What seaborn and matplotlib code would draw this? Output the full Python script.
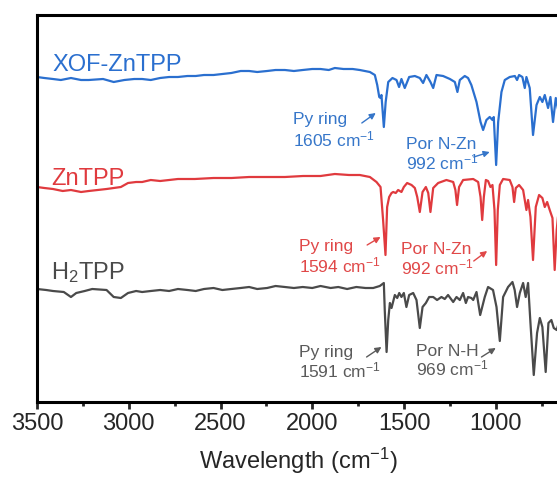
import matplotlib
matplotlib.use('Agg')
import matplotlib.pyplot as plt
import seaborn as sns
from matplotlib.ticker import MultipleLocator

# FTIR spectra, stacked with offsets (arbitrary units)
xof_wn = [3500, 3460, 3413, 3370, 3315, 3260, 3218, 3140, 3082, 3024, 2970, 2927, 2880, 2829, 2780, 2732,
          2680, 2635, 2590, 2538, 2490, 2441, 2390, 2344, 2300, 2246, 2200, 2149, 2100, 2052, 2000, 1955,
          1910, 1877, 1830, 1780, 1741, 1686, 1659, 1646, 1635, 1628, 1623, 1610, 1600, 1586, 1563, 1541,
          1527, 1514, 1496, 1472, 1441, 1414, 1396, 1378, 1356, 1341, 1323, 1287, 1250, 1223, 1209, 1196,
          1169, 1151, 1133, 1105, 1083, 1069, 1051, 1033, 1018, 1011, 998, 987, 969, 951, 924, 896,
          884, 873, 855, 842, 833, 815, 797, 778, 760, 746, 733, 715, 702, 688, 673, 660]
xof_val = [325, 324, 323, 322, 324, 322, 322, 323, 320, 322, 323, 323, 322, 324, 325, 325,
           326, 326, 327, 327, 328, 329, 331, 331, 330, 331, 332, 332, 331, 332, 333, 333,
           332, 334, 333, 333, 332, 330, 327, 317, 305, 304, 307, 275, 300, 320, 324, 322,
           315, 323, 314, 325, 326, 324, 319, 327, 320, 314, 327, 326, 323, 320, 310, 322,
           326, 324, 317, 300, 280, 272, 282, 285, 282, 285, 237, 280, 310, 322, 325, 326,
           322, 327, 325, 314, 325, 314, 267, 297, 305, 300, 307, 294, 305, 280, 304, 292]

zn_wn = [3500, 3460, 3413, 3360, 3315, 3260, 3218, 3121, 3043, 3004, 2960, 2927, 2880, 2829, 2780, 2732,
         2640, 2538, 2440, 2344, 2250, 2149, 2050, 1955, 1877, 1800, 1741, 1686, 1650, 1628, 1614, 1601,
         1592, 1581, 1568, 1559, 1545, 1532, 1514, 1501, 1483, 1459, 1441, 1428, 1414, 1399, 1381, 1368,
         1356, 1341, 1314, 1269, 1232, 1220, 1211, 1200, 1178, 1123, 1096, 1083, 1074, 1065, 1054, 1042,
         1029, 1018, 1007, 998, 989, 978, 960, 924, 909, 900, 891, 873, 851, 833, 824, 811,
         797, 782, 764, 746, 733, 720, 706, 691, 679, 668, 660]
zn_val = [215, 214, 213, 211, 212, 210, 211, 213, 215, 219, 220, 220, 222, 221, 222, 223,
          223, 224, 224, 225, 225, 225, 226, 226, 228, 227, 227, 225, 220, 215, 182, 147,
          195, 205, 209, 210, 209, 212, 210, 215, 219, 217, 214, 205, 190, 210, 215, 209,
          190, 214, 219, 222, 220, 212, 197, 215, 222, 223, 220, 205, 182, 205, 222, 221,
          215, 217, 192, 137, 192, 217, 223, 222, 215, 200, 214, 217, 212, 192, 202, 185,
          142, 195, 207, 204, 195, 200, 192, 184, 132, 172, 187]

h2_wn = [3500, 3450, 3413, 3354, 3315, 3286, 3240, 3199, 3121, 3082, 3043, 3004, 2960, 2927, 2880, 2829,
         2780, 2732, 2680, 2635, 2590, 2538, 2490, 2441, 2390, 2344, 2300, 2246, 2200, 2149, 2100, 2052,
         2000, 1955, 1900, 1858, 1810, 1760, 1710, 1668, 1632, 1610, 1605, 1595, 1586, 1577, 1568, 1550,
         1537, 1526, 1514, 1501, 1487, 1472, 1450, 1432, 1414, 1399, 1381, 1363, 1341, 1320, 1296, 1278,
         1260, 1232, 1214, 1196, 1178, 1163, 1151, 1133, 1123, 1105, 1085, 1060, 1042, 1015, 996, 978,
         960, 933, 909, 897, 884, 869, 851, 837, 824, 811, 793, 775, 760, 746, 728, 713,
         697, 684, 668, 660]
h2_val = [113, 112, 111, 110, 105, 109, 111, 113, 112, 105, 104, 109, 111, 110, 111, 112,
          111, 113, 112, 111, 113, 114, 112, 113, 114, 115, 113, 114, 116, 115, 114, 115,
          114, 116, 114, 115, 113, 115, 114, 114, 116, 119, 92, 50, 82, 99, 94, 107,
          104, 109, 105, 109, 95, 107, 109, 102, 74, 95, 99, 105, 105, 102, 105, 103,
          107, 100, 105, 102, 109, 99, 105, 104, 102, 110, 87, 105, 115, 112, 95, 61,
          105, 115, 120, 112, 95, 109, 119, 105, 119, 79, 27, 69, 84, 75, 30, 79,
          82, 74, 72, 77]

series_names = ['XOF-ZnTPP', 'ZnTPP', 'H$_2$TPP']
line_colors = ['#2a6fcf', '#e03a3e', '#4a4a4a']
text_colors = ['#3676c9', '#e04848', '#5a5a5a']

sns.set_theme(style='white')
plt.rcParams['font.family'] = ['Liberation Sans', 'DejaVu Sans']
plt.rcParams['mathtext.fontset'] = 'custom'
plt.rcParams['mathtext.rm'] = 'Liberation Sans'
plt.rcParams['mathtext.it'] = 'Liberation Sans:italic'
plt.rcParams['mathtext.bf'] = 'Liberation Sans:bold'

fig = plt.figure(figsize=(5.57, 4.8), dpi=100)
ax = fig.add_axes([37 / 557, 78 / 480, 523 / 557, 387 / 480])

for wn, val, col in zip([xof_wn, zn_wn, h2_wn], [xof_val, zn_val, h2_val], line_colors):
    sns.lineplot(x=wn, y=val, ax=ax, color=col, lw=1.6, sort=False, estimator=None)

ax.set_xlim(3500, 650)
ax.set_ylim(0, 387)
ax.set_yticks([])
ax.set_ylabel('')
ax.xaxis.set_major_locator(MultipleLocator(500))
ax.xaxis.set_minor_locator(MultipleLocator(250))
ax.tick_params(axis='x', which='major', direction='out', length=5, width=2, labelsize=17, pad=3, bottom=True)
ax.tick_params(axis='x', which='minor', direction='out', length=3, width=2, bottom=True)
ax.set_xlabel('Wavelength (cm$^{-1}$)', fontsize=17, labelpad=8)
for side in ['left', 'top', 'bottom']:
    ax.spines[side].set_linewidth(2.2)
    ax.spines[side].set_color('black')
ax.spines['right'].set_visible(False)

# series labels
ax.text(3413, 331, series_names[0], color=line_colors[0], fontsize=17, va='baseline')
ax.text(3424, 217, series_names[1], color=line_colors[1], fontsize=17, va='baseline')
ax.text(3424, 123, series_names[2], color=line_colors[2], fontsize=17, va='baseline')

# peak annotations: (x, y, text, colour index)
notes = [
    (2106, 278, 'Py ring', 0), (2106, 256, '1605 cm$^{-1}$', 0),
    (1488, 253, 'Por N-Zn', 0), (1488, 233, '992 cm$^{-1}$', 0),
    (2073, 151, 'Py ring', 1), (2073, 130, '1594 cm$^{-1}$', 1),
    (1514, 148, 'Por N-Zn', 1), (1514, 128, '992 cm$^{-1}$', 1),
    (2072, 45, 'Py ring', 2), (2072, 25, '1591 cm$^{-1}$', 2),
    (1432, 46, 'Por N-H', 2), (1432, 27, '969 cm$^{-1}$', 2),
]
for x, y, s, i in notes:
    ax.text(x, y, s, color=text_colors[i], fontsize=12.5, va='baseline', ha='left')

arrows = [
    ((1730, 279), (1654, 289), 0), ((1120, 245), (1033, 250), 0),
    ((1701, 157), (1628, 165), 1), ((1120, 141), (1047, 151), 1),
    ((1704, 45), (1623, 55), 2), ((1078, 45), (1000, 54), 2),
]
for tail, head, i in arrows:
    ax.annotate('', xy=head, xytext=tail,
                arrowprops=dict(arrowstyle='-|>', color=text_colors[i], lw=1, mutation_scale=9,
                                shrinkA=0, shrinkB=0))

plt.savefig('out.png', dpi=100)
plt.close()
